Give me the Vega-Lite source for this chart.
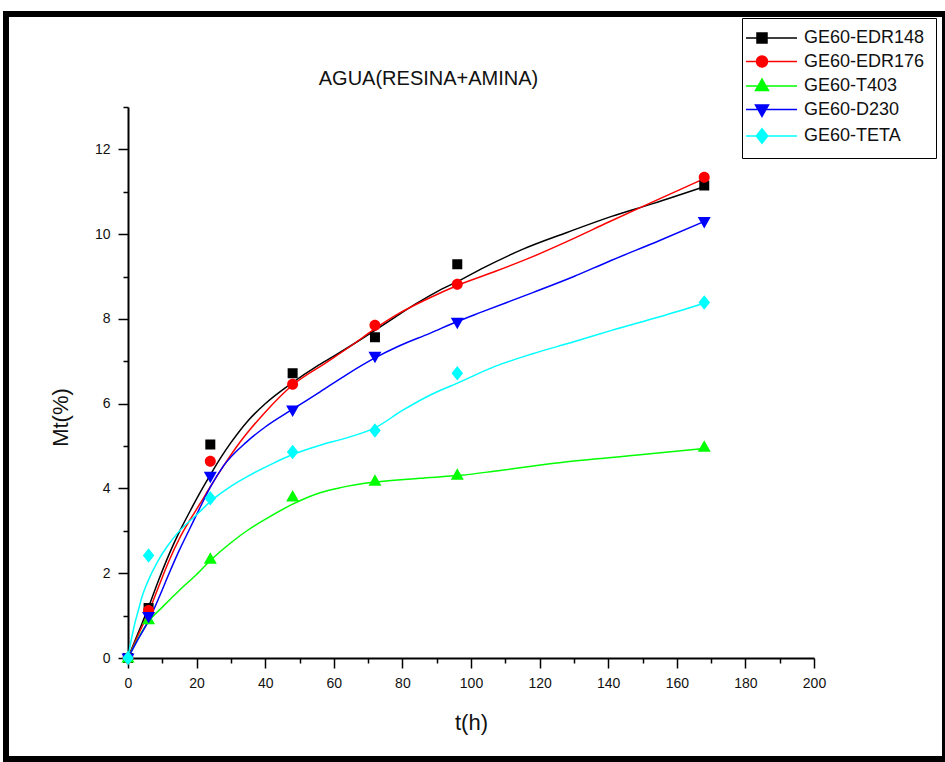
{
  "$schema": "https://vega.github.io/schema/vega-lite/v6.json",
  "width": 939,
  "height": 745,
  "autosize": {"type": "none"},
  "padding": {"left": 6, "top": 14, "right": 0, "bottom": 3},
  "background": "white",
  "config": {
    "view": {"stroke": "black", "strokeWidth": 6},
    "font": "Liberation Sans"
  },
  "title": {
    "text": "AGUA(RESINA+AMINA)",
    "font": "Liberation Sans",
    "fontSize": 20,
    "fontWeight": "normal",
    "color": "#111111",
    "anchor": "middle",
    "frame": "group",
    "offset": 0,
    "baseline": "top",
    "dx": -47,
    "dy": 75
  },
  "datasets": {
    "pts": [
      {"s": "GE60-EDR148", "t": 0, "v": 0}, {"s": "GE60-EDR148", "t": 6, "v": 1.18}, {"s": "GE60-EDR148", "t": 24, "v": 5.04}, {"s": "GE60-EDR148", "t": 48, "v": 6.72}, {"s": "GE60-EDR148", "t": 72, "v": 7.57}, {"s": "GE60-EDR148", "t": 96, "v": 9.29}, {"s": "GE60-EDR148", "t": 168, "v": 11.15},
      {"s": "GE60-EDR176", "t": 0, "v": 0}, {"s": "GE60-EDR176", "t": 6, "v": 1.12}, {"s": "GE60-EDR176", "t": 24, "v": 4.64}, {"s": "GE60-EDR176", "t": 48, "v": 6.46}, {"s": "GE60-EDR176", "t": 72, "v": 7.85}, {"s": "GE60-EDR176", "t": 96, "v": 8.82}, {"s": "GE60-EDR176", "t": 168, "v": 11.34},
      {"s": "GE60-T403", "t": 0, "v": 0}, {"s": "GE60-T403", "t": 6, "v": 0.9}, {"s": "GE60-T403", "t": 24, "v": 2.33}, {"s": "GE60-T403", "t": 48, "v": 3.8}, {"s": "GE60-T403", "t": 72, "v": 4.17}, {"s": "GE60-T403", "t": 96, "v": 4.31}, {"s": "GE60-T403", "t": 168, "v": 4.97},
      {"s": "GE60-D230", "t": 0, "v": 0}, {"s": "GE60-D230", "t": 6, "v": 0.98}, {"s": "GE60-D230", "t": 24, "v": 4.29}, {"s": "GE60-D230", "t": 48, "v": 5.85}, {"s": "GE60-D230", "t": 72, "v": 7.12}, {"s": "GE60-D230", "t": 96, "v": 7.92}, {"s": "GE60-D230", "t": 168, "v": 10.3},
      {"s": "GE60-TETA", "t": 0, "v": 0}, {"s": "GE60-TETA", "t": 6, "v": 2.42}, {"s": "GE60-TETA", "t": 24, "v": 3.77}, {"s": "GE60-TETA", "t": 48, "v": 4.86}, {"s": "GE60-TETA", "t": 72, "v": 5.37}, {"s": "GE60-TETA", "t": 96, "v": 6.72}, {"s": "GE60-TETA", "t": 168, "v": 8.39}
    ],
    "fit": [
      {"s": "GE60-EDR148", "t": 0, "v": 0}, {"s": "GE60-EDR148", "t": 3, "v": 0.6}, {"s": "GE60-EDR148", "t": 6, "v": 1.2}, {"s": "GE60-EDR148", "t": 9, "v": 1.85}, {"s": "GE60-EDR148", "t": 12, "v": 2.45}, {"s": "GE60-EDR148", "t": 15, "v": 2.98}, {"s": "GE60-EDR148", "t": 18, "v": 3.45}, {"s": "GE60-EDR148", "t": 21, "v": 3.9}, {"s": "GE60-EDR148", "t": 24, "v": 4.32}, {"s": "GE60-EDR148", "t": 27, "v": 4.72}, {"s": "GE60-EDR148", "t": 30, "v": 5.08}, {"s": "GE60-EDR148", "t": 35, "v": 5.6}, {"s": "GE60-EDR148", "t": 40, "v": 6.0}, {"s": "GE60-EDR148", "t": 48, "v": 6.5}, {"s": "GE60-EDR148", "t": 55, "v": 6.88}, {"s": "GE60-EDR148", "t": 60, "v": 7.12}, {"s": "GE60-EDR148", "t": 66, "v": 7.42}, {"s": "GE60-EDR148", "t": 72, "v": 7.73}, {"s": "GE60-EDR148", "t": 78, "v": 8.05}, {"s": "GE60-EDR148", "t": 84, "v": 8.36}, {"s": "GE60-EDR148", "t": 90, "v": 8.64}, {"s": "GE60-EDR148", "t": 96, "v": 8.88}, {"s": "GE60-EDR148", "t": 103, "v": 9.18}, {"s": "GE60-EDR148", "t": 115, "v": 9.64}, {"s": "GE60-EDR148", "t": 128, "v": 10.04}, {"s": "GE60-EDR148", "t": 141, "v": 10.42}, {"s": "GE60-EDR148", "t": 153, "v": 10.72}, {"s": "GE60-EDR148", "t": 168, "v": 11.12},
      {"s": "GE60-EDR176", "t": 0, "v": 0}, {"s": "GE60-EDR176", "t": 3, "v": 0.55}, {"s": "GE60-EDR176", "t": 6, "v": 1.08}, {"s": "GE60-EDR176", "t": 9, "v": 1.7}, {"s": "GE60-EDR176", "t": 12, "v": 2.3}, {"s": "GE60-EDR176", "t": 15, "v": 2.82}, {"s": "GE60-EDR176", "t": 18, "v": 3.25}, {"s": "GE60-EDR176", "t": 21, "v": 3.64}, {"s": "GE60-EDR176", "t": 24, "v": 4.04}, {"s": "GE60-EDR176", "t": 28, "v": 4.55}, {"s": "GE60-EDR176", "t": 32, "v": 5.02}, {"s": "GE60-EDR176", "t": 36, "v": 5.43}, {"s": "GE60-EDR176", "t": 40, "v": 5.8}, {"s": "GE60-EDR176", "t": 48, "v": 6.44}, {"s": "GE60-EDR176", "t": 58, "v": 6.98}, {"s": "GE60-EDR176", "t": 66, "v": 7.42}, {"s": "GE60-EDR176", "t": 72, "v": 7.77}, {"s": "GE60-EDR176", "t": 79, "v": 8.13}, {"s": "GE60-EDR176", "t": 88, "v": 8.5}, {"s": "GE60-EDR176", "t": 96, "v": 8.79}, {"s": "GE60-EDR176", "t": 107, "v": 9.12}, {"s": "GE60-EDR176", "t": 118, "v": 9.47}, {"s": "GE60-EDR176", "t": 130, "v": 9.9}, {"s": "GE60-EDR176", "t": 140, "v": 10.28}, {"s": "GE60-EDR176", "t": 153, "v": 10.76}, {"s": "GE60-EDR176", "t": 168, "v": 11.31},
      {"s": "GE60-T403", "t": 0, "v": 0}, {"s": "GE60-T403", "t": 3, "v": 0.47}, {"s": "GE60-T403", "t": 6, "v": 0.86}, {"s": "GE60-T403", "t": 10, "v": 1.2}, {"s": "GE60-T403", "t": 15, "v": 1.6}, {"s": "GE60-T403", "t": 20, "v": 1.97}, {"s": "GE60-T403", "t": 24.4, "v": 2.33}, {"s": "GE60-T403", "t": 30, "v": 2.72}, {"s": "GE60-T403", "t": 35, "v": 3.02}, {"s": "GE60-T403", "t": 40, "v": 3.27}, {"s": "GE60-T403", "t": 48, "v": 3.63}, {"s": "GE60-T403", "t": 56, "v": 3.9}, {"s": "GE60-T403", "t": 62, "v": 4.02}, {"s": "GE60-T403", "t": 72, "v": 4.15}, {"s": "GE60-T403", "t": 85, "v": 4.24}, {"s": "GE60-T403", "t": 97, "v": 4.31}, {"s": "GE60-T403", "t": 108, "v": 4.42}, {"s": "GE60-T403", "t": 128, "v": 4.63}, {"s": "GE60-T403", "t": 150, "v": 4.8}, {"s": "GE60-T403", "t": 168, "v": 4.94},
      {"s": "GE60-D230", "t": 0, "v": 0}, {"s": "GE60-D230", "t": 3, "v": 0.45}, {"s": "GE60-D230", "t": 6, "v": 0.88}, {"s": "GE60-D230", "t": 9, "v": 1.42}, {"s": "GE60-D230", "t": 12, "v": 2.0}, {"s": "GE60-D230", "t": 15, "v": 2.55}, {"s": "GE60-D230", "t": 18, "v": 3.05}, {"s": "GE60-D230", "t": 21, "v": 3.55}, {"s": "GE60-D230", "t": 24, "v": 4.03}, {"s": "GE60-D230", "t": 28, "v": 4.55}, {"s": "GE60-D230", "t": 34.6, "v": 5.1}, {"s": "GE60-D230", "t": 40, "v": 5.45}, {"s": "GE60-D230", "t": 48, "v": 5.87}, {"s": "GE60-D230", "t": 56, "v": 6.28}, {"s": "GE60-D230", "t": 64, "v": 6.7}, {"s": "GE60-D230", "t": 72, "v": 7.08}, {"s": "GE60-D230", "t": 79, "v": 7.36}, {"s": "GE60-D230", "t": 88, "v": 7.66}, {"s": "GE60-D230", "t": 96, "v": 7.94}, {"s": "GE60-D230", "t": 103, "v": 8.16}, {"s": "GE60-D230", "t": 118, "v": 8.62}, {"s": "GE60-D230", "t": 130, "v": 9.0}, {"s": "GE60-D230", "t": 140, "v": 9.35}, {"s": "GE60-D230", "t": 155, "v": 9.85}, {"s": "GE60-D230", "t": 168, "v": 10.3},
      {"s": "GE60-TETA", "t": 0, "v": 0}, {"s": "GE60-TETA", "t": 1, "v": 0.45}, {"s": "GE60-TETA", "t": 2, "v": 0.82}, {"s": "GE60-TETA", "t": 3, "v": 1.12}, {"s": "GE60-TETA", "t": 4, "v": 1.42}, {"s": "GE60-TETA", "t": 5, "v": 1.65}, {"s": "GE60-TETA", "t": 7, "v": 2.02}, {"s": "GE60-TETA", "t": 8.8, "v": 2.3}, {"s": "GE60-TETA", "t": 11.3, "v": 2.62}, {"s": "GE60-TETA", "t": 14.7, "v": 2.97}, {"s": "GE60-TETA", "t": 20, "v": 3.38}, {"s": "GE60-TETA", "t": 25, "v": 3.76}, {"s": "GE60-TETA", "t": 30, "v": 4.05}, {"s": "GE60-TETA", "t": 35, "v": 4.29}, {"s": "GE60-TETA", "t": 42, "v": 4.58}, {"s": "GE60-TETA", "t": 48, "v": 4.8}, {"s": "GE60-TETA", "t": 56, "v": 5.02}, {"s": "GE60-TETA", "t": 64, "v": 5.2}, {"s": "GE60-TETA", "t": 72, "v": 5.43}, {"s": "GE60-TETA", "t": 80, "v": 5.84}, {"s": "GE60-TETA", "t": 88, "v": 6.2}, {"s": "GE60-TETA", "t": 97, "v": 6.52}, {"s": "GE60-TETA", "t": 107, "v": 6.88}, {"s": "GE60-TETA", "t": 118, "v": 7.18}, {"s": "GE60-TETA", "t": 130, "v": 7.46}, {"s": "GE60-TETA", "t": 141, "v": 7.73}, {"s": "GE60-TETA", "t": 155, "v": 8.05}, {"s": "GE60-TETA", "t": 168, "v": 8.37}
    ]
  },
  "encoding": {
    "x": {
      "field": "t",
      "type": "quantitative",
      "scale": {"domain": [0, 200], "range": [122, 808], "nice": false, "zero": false},
      "axis": {
        "title": "t(h)",
        "offset": -101,
        "values": [0, 10, 20, 30, 40, 50, 60, 70, 80, 90, 100, 110, 120, 130, 140, 150, 160, 170, 180, 190, 200],
        "labelExpr": "datum.value % 20 === 0 ? datum.label : ''",
        "grid": false,
        "domainColor": "black",
        "domainWidth": 2,
        "tickColor": "black",
        "tickWidth": 1.5,
        "tickSize": {"condition": {"test": "datum.value % 20 === 0", "value": 10}, "value": 5},
        "labelFont": "Liberation Sans",
        "labelFontSize": 14,
        "labelColor": "#111111",
        "labelPadding": 8,
        "labelFlush": false,
        "labelOverlap": false,
        "titleFont": "Liberation Sans",
        "titleFontSize": 22,
        "titleFontWeight": "normal",
        "titleColor": "#111111",
        "titleY": 54,
        "titleBaseline": "top"
      }
    },
    "y": {
      "field": "v",
      "type": "quantitative",
      "scale": {"domain": [0, 13], "range": [644, 93], "nice": false, "zero": false},
      "axis": {
        "title": "Mt(%)",
        "offset": -122,
        "values": [0, 1, 2, 3, 4, 5, 6, 7, 8, 9, 10, 11, 12, 13],
        "labelExpr": "datum.value % 2 === 0 ? datum.label : ''",
        "grid": false,
        "domainColor": "black",
        "domainWidth": 2,
        "tickColor": "black",
        "tickWidth": 1.5,
        "tickSize": {"condition": {"test": "datum.value % 2 === 0", "value": 10}, "value": 5},
        "labelFont": "Liberation Sans",
        "labelFontSize": 14,
        "labelColor": "#111111",
        "labelPadding": 8,
        "labelFlush": false,
        "labelOverlap": false,
        "titleFont": "Liberation Sans",
        "titleFontSize": 22,
        "titleFontWeight": "normal",
        "titleColor": "#111111",
        "titleX": -56,
        "titleY": 403
      }
    },
    "color": {
      "field": "s",
      "type": "nominal",
      "scale": {
        "domain": ["GE60-EDR148", "GE60-EDR176", "GE60-T403", "GE60-D230", "GE60-TETA"],
        "range": ["#000000", "#ff0000", "#00ff00", "#0000ff", "#00ffff"]
      },
      "legend": {"title": null, "orient": "none", "legendX": 736, "legendY": 4, "strokeColor": "black", "fillColor": "white", "padding": 11, "labelFont": "Liberation Sans", "labelFontSize": 18, "labelColor": "#111111", "labelOffset": 33, "symbolSize": 100, "symbolStrokeWidth": 1.5, "symbolOpacity": 1, "rowPadding": 5.5}
    }
  },
  "layer": [
    {
      "data": {"name": "fit"},
      "mark": {"type": "line", "strokeWidth": 1.5, "interpolate": "monotone"}
    },
    {
      "data": {"name": "pts"},
      "mark": {"type": "point", "filled": true, "opacity": 1, "size": 100, "strokeWidth": 0},
      "encoding": {
        "stroke": {
          "field": "s",
          "type": "nominal",
          "scale": {
            "domain": ["GE60-EDR148", "GE60-EDR176", "GE60-T403", "GE60-D230", "GE60-TETA"],
            "range": ["#000000", "#ff0000", "#00ff00", "#0000ff", "#00ffff"]
          },
          "legend": {"title": null, "orient": "none", "legendX": 736, "legendY": 4, "strokeColor": "black", "fillColor": "white", "padding": 11, "labelFont": "Liberation Sans", "labelFontSize": 18, "labelColor": "#111111", "labelOffset": 33, "symbolSize": 100, "symbolStrokeWidth": 1.5, "symbolOpacity": 1, "rowPadding": 5.5}
        },
        "shape": {
          "field": "s",
          "type": "nominal",
          "scale": {
            "domain": ["GE60-EDR148", "GE60-EDR176", "GE60-T403", "GE60-D230", "GE60-TETA"],
            "range": [
              "M-3.2,0H7M-1,-1H1V1H-1Z",
              "M-3.2,0H7M-1.1,0A1.1,1.1 0 1,0 1.1,0A1.1,1.1 0 1,0 -1.1,0Z",
              "M-3.2,0H7M0,-1.4L1.3,0.9L-1.3,0.9Z",
              "M-3.2,0H7M0,1.4L1.3,-0.9L-1.3,-0.9Z",
              "M-3.2,0H7M0,-1.45L1.15,0L0,1.45L-1.15,0Z"
            ]
          },
          "legend": {"title": null, "orient": "none", "legendX": 736, "legendY": 4, "strokeColor": "black", "fillColor": "white", "padding": 11, "labelFont": "Liberation Sans", "labelFontSize": 18, "labelColor": "#111111", "labelOffset": 33, "symbolSize": 100, "symbolStrokeWidth": 1.5, "symbolOpacity": 1, "rowPadding": 5.5}
        }
      }
    }
  ]
}
